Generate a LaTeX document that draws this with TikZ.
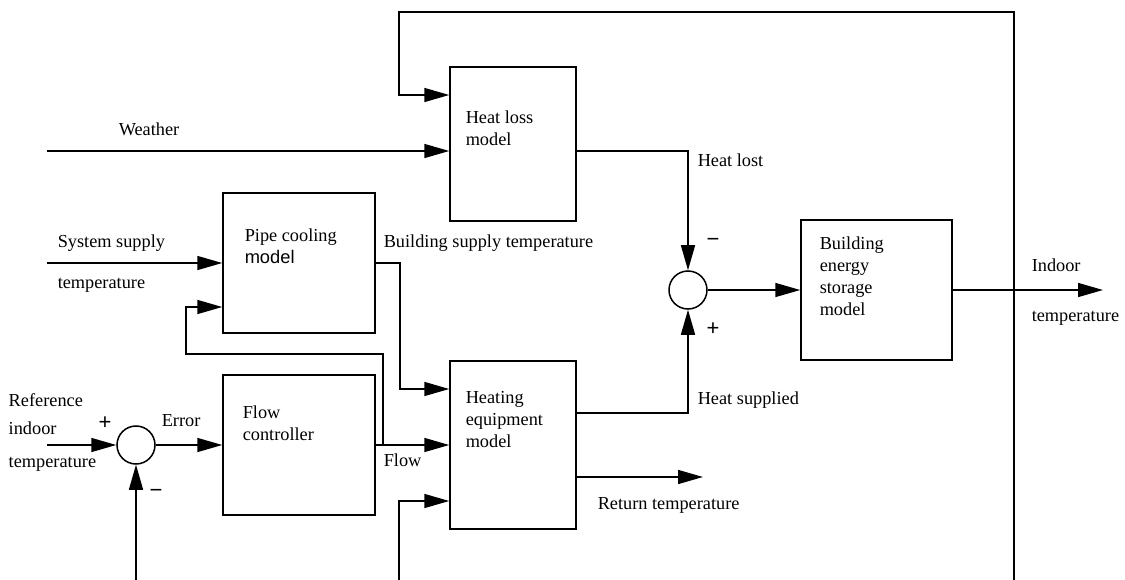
\documentclass[tikz,border=0pt]{standalone}
\usepackage{fontspec}
\setmainfont{Liberation Serif}
\newfontfamily\arialfont{Liberation Sans}
\usetikzlibrary{arrows.meta}

\begin{document}
\begin{tikzpicture}[x=1pt, y=-1pt, line width=1.5pt, >={Triangle[length=25pt,width=14pt]},
	blk/.style={draw, rectangle, inner sep=0pt},
	sumj/.style={draw, circle, minimum size=38pt, inner sep=0pt},
	txt/.style={anchor=west, inner sep=0pt, font=\fontsize{18.3}{22}\selectfont},
	boxtxt/.style={anchor=north west, inner sep=0pt, align=left, font=\fontsize{18.3}{22}\selectfont},
	sgn/.style={inner sep=0pt, font=\arialfont\fontsize{22}{24}\selectfont}]
	\useasboundingbox (0,0) rectangle (1125,580);
	% Các khối mô hình
	\node[blk, minimum width=126pt, minimum height=154pt] (hl) at (513,144) {};
	\node[blk, minimum width=152pt, minimum height=140pt] (pc) at (299,263) {};
	\node[blk, minimum width=152pt, minimum height=140pt] (fc) at (299,445) {};
	\node[blk, minimum width=126pt, minimum height=168pt] (he) at (513,445) {};
	\node[blk, minimum width=151pt, minimum height=140pt] (bs) at (876.5,290) {};
	\node[sumj] (s1) at (136,445) {};
	\node[sumj] (s2) at (688,290) {};
	% Chữ trong các khối
	\node[boxtxt] (hlt) at (465,110) {Heat loss\\model};
	\node[boxtxt] (pct) at (244,228) {Pipe cooling\\{\arialfont model}};
	\node[boxtxt] (fct) at (242,405) {Flow\\controller};
	\node[boxtxt] (het) at (465,391) {Heating\\equipment\\model};
	\node[boxtxt] (bst) at (819,236) {Building\\energy\\storage\\model};
	% Điểm đầu và cuối tự do
	\coordinate (wIn) at (47,151);
	\coordinate (sIn) at (47,263);
	\coordinate (rIn) at (47,445);
	\coordinate (mIn) at (136,580);
	\coordinate (bIn) at (399,580);
	\coordinate (fbB) at (1014,580);
	\coordinate (fbT) at (399,12);
	\coordinate (tOut) at (1103,290);
	\coordinate (rOut) at (703,477);
	\coordinate (fTap) at (383,445);
	\coordinate (fCor) at (186,354);
	% Các đường tín hiệu
	\draw[->] (fbB) |- (fbT) |- ([yshift=49pt]hl.west);
	\draw[->] (wIn) -- ([yshift=-7pt]hl.west);
	\draw[->] ([yshift=-7pt]hl.east) -| (s2.north);
	\draw[->] (s2.east) -- (bs.west);
	\draw[->] (bs.east) -- (tOut);
	\draw[->] ([yshift=32pt]he.east) -| (s2.south);
	\draw[->] ([yshift=-32pt]he.east) -- (rOut);
	\draw[->] (sIn) -- (pc.west);
	\draw[->] (pc.east) -- ++(24,0) |- ([yshift=56pt]he.west);
	\draw[->] (fc.east) -- (he.west);
	\draw[->] (fTap) |- (fCor) |- ([yshift=-44pt]pc.west);
	\draw[->] (rIn) -- (s1.west);
	\draw[->] (s1.east) -- (fc.west);
	\draw[->] (mIn) -- (s1.south);
	\draw[->] (bIn) |- ([yshift=-56pt]he.west);
	% Nhãn tín hiệu
	\node[txt] (lw) at (118,129) {Weather};
	\node[txt] (lhl) at (697,160) {Heat lost};
	\node[txt] (lss1) at (57,243) {System supply};
	\node[txt] (lss2) at (57,285) {temperature};
	\node[txt] (lbs) at (383,243) {Building supply temperature};
	\node[txt] (lit1) at (1031,265) {Indoor};
	\node[txt] (lit2) at (1031,318) {temperature};
	\node[txt] (lhs) at (697,400) {Heat supplied};
	\node[txt] (lfl) at (383,460) {Flow};
	\node[txt] (lrt) at (597,505) {Return temperature};
	\node[txt] (lr1) at (8,400) {Reference};
	\node[txt] (lr2) at (8,428) {indoor};
	\node[txt] (lr3) at (8,464) {temperature};
	\node[txt] (ler) at (161,421) {Error};
	% Dấu cộng trừ
	\node[sgn] (m2) at (713,242) {−};
	\node[sgn] (p2) at (713,329) {+};
	\node[sgn] (p1) at (105,423) {+};
	\node[sgn] (m1) at (156,493) {−};
\end{tikzpicture}
\end{document}
